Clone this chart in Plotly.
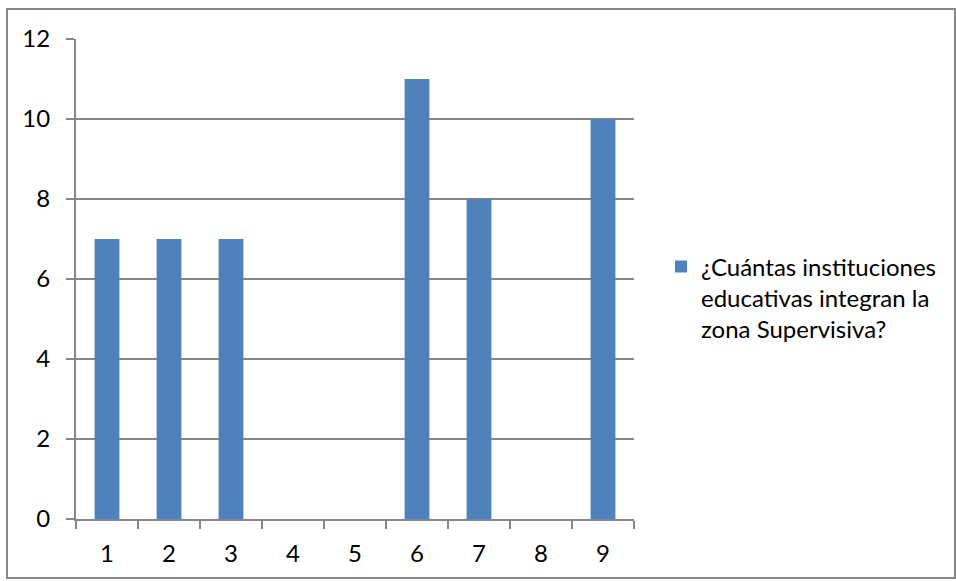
import plotly.graph_objects as go

# Number of educational institutions per supervisory zone
zonas = ["1", "2", "3", "4", "5", "6", "7", "8", "9"]
instituciones = [7, 7, 7, 0, 0, 11, 8, 0, 10]
serie = "¿Cuántas instituciones<br>educativas integran la<br>zona Supervisiva?"

W, H = 956, 581
L, R, T, B = 76, 322, 39, 62
pw = W - L - R
ph = H - T - B
grid = "#868686"
font = "Lato, 'Open Sans', sans-serif"

fig = go.Figure()
fig.add_trace(go.Bar(
    x=zonas, y=instituciones, name=serie,
    marker=dict(color="#4F81BD", line=dict(width=0)),
    showlegend=True,
))

# outer chart border, expressed in paper coordinates
x0 = (7 - L) / pw
x1 = (955 - L) / pw
y0 = (H - B - 578) / ph
y1 = (H - B - 9) / ph

fig.update_layout(
    width=W, height=H,
    margin=dict(l=L, r=R, t=T, b=B),
    paper_bgcolor="white", plot_bgcolor="white",
    bargap=0.6,
    font=dict(family=font, size=24, color="#000000"),
    showlegend=True,
    legend=dict(
        x=(661 - L) / pw, xanchor="left",
        y=(H - B - 298) / ph, yanchor="middle",
        font=dict(family=font, size=24, color="#000000"),
        valign="top",
        itemsizing="constant", bgcolor="rgba(0,0,0,0)",
        tracegroupgap=0,
    ),
    xaxis=dict(
        type="category", range=[-0.5, 8.5],
        showline=True, linecolor=grid, linewidth=2,
        ticks="outside", ticklen=8, tickcolor=grid, tickwidth=2,
        tickson="boundaries", showgrid=False, zeroline=False,
        ticklabelstandoff=12,
    ),
    yaxis=dict(
        range=[0, 12], dtick=2, tick0=0,
        showline=True, linecolor=grid, linewidth=2,
        ticks="outside", ticklen=8, tickcolor=grid, tickwidth=2,
        showgrid=True, gridcolor=grid, gridwidth=2,
        zeroline=False, ticklabelstandoff=11,
    ),
    shapes=[dict(
        type="rect", xref="paper", yref="paper",
        x0=x0, x1=x1, y0=y0, y1=y1,
        line=dict(color="#878787", width=2), layer="below",
    )],
)

fig.write_html("out.html")
